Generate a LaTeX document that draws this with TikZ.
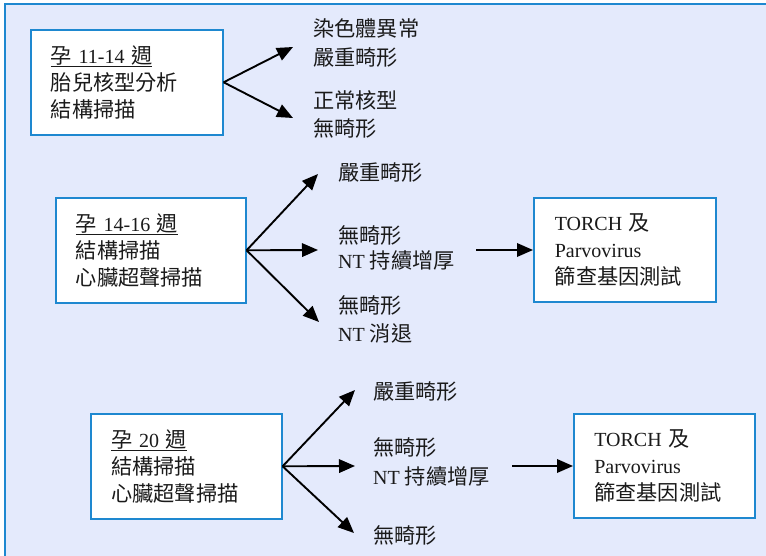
\documentclass[tikz,border=0pt]{standalone}
\usepackage{fontspec}
\setmainfont{Liberation Serif}
\newfontfamily\cjk[Scale=1.06]{Noto Sans CJK TC}
\usetikzlibrary{arrows.meta}
\newcommand\zh[1]{{\cjk #1}}
\definecolor{framebg}{HTML}{E4EAFC}
\definecolor{frameblue}{HTML}{1E88D0}
\definecolor{ink}{HTML}{1A1A1A}
\tikzset{
  txt/.style={font=\fontsize{20}{27}\selectfont, text=ink},
  box/.style={txt, draw=frameblue, line width=1.6pt, fill=white, anchor=north west,
    align=left, minimum height=105pt, inner ysep=0pt},
  lbl/.style={txt, anchor=west, align=left, inner sep=0pt},
  arr/.style={line width=1.9pt, draw=black, -{Triangle[length=16pt,width=13.5pt]}},
}
\begin{document}
\begin{tikzpicture}[x=1pt,y=-1pt]
\useasboundingbox (0,0) rectangle (766,556);
% background frame
\fill[framebg] (5,4) rectangle (772,562);
\draw[frameblue, line width=2pt] (772,4) -- (5,4) -- (5,562);

% boxes
\node[box, text width=152pt, inner xsep=20pt] (b1) at (30,29)
  {\underline{\zh{孕} 11-14 \zh{週}}\\\zh{胎兒核型分析}\\\zh{結構掃描}};
\node[box, text width=150pt, inner xsep=20pt] (b2) at (55,197)
  {\underline{\zh{孕} 14-16 \zh{週}}\\\zh{結構掃描}\\\zh{心臟超聲掃描}};
\node[box, text width=150pt, inner xsep=20.5pt] (b3) at (90,413)
  {\underline{\zh{孕} 20 \zh{週}}\\\zh{結構掃描}\\\zh{心臟超聲掃描}};
\node[box, text width=140pt, inner xsep=21pt, minimum height=104pt] (t1) at (533,197)
  {TORCH \zh{及}\\Parvovirus\\\zh{篩查基因測試}};
\node[box, text width=140pt, inner xsep=20.5pt, minimum height=104pt] (t2) at (573,413)
  {TORCH \zh{及}\\Parvovirus\\\zh{篩查基因測試}};

% labels
\node[lbl, font=\fontsize{20}{29}\selectfont] (l1a) at (313,42.5) {\zh{染色體異常}\\\zh{嚴重畸形}};
\node[lbl, font=\fontsize{20}{28}\selectfont] (l1b) at (313,114) {\zh{正常核型}\\\zh{無畸形}};

\node[lbl] (l2a) at (338,173) {\zh{嚴重畸形}};
\node[lbl, font=\fontsize{20}{25}\selectfont] (l2b) at (338,247.5) {\zh{無畸形}\\NT \zh{持續增厚}};
\node[lbl, font=\fontsize{20}{28}\selectfont] (l2c) at (338,319) {\zh{無畸形}\\NT \zh{消退}};

\node[lbl] (l3a) at (373,392) {\zh{嚴重畸形}};
\node[lbl, font=\fontsize{20}{29}\selectfont] (l3b) at (373,461.5) {\zh{無畸形}\\NT \zh{持續增厚}};
\node[lbl] (l3c) at (373,535) {\zh{無畸形}};

% arrow tips
\coordinate (e1a) at (293,47);
\coordinate (e1b) at (293,118);
\coordinate (e2a) at (318,174);
\coordinate (e2b) at (318,250);
\coordinate (e2c) at (319,322);
\coordinate (s2) at (476,250);
\coordinate (e3a) at (355,390);
\coordinate (e3b) at (355,466);
\coordinate (e3c) at (354,533);
\coordinate (s3) at (512,466);

\draw[arr] (b1.east) -- (e1a);
\draw[arr] (b1.east) -- (e1b);
\draw[arr] (b2.east) -- (e2a);
\draw[arr] (b2.east) -- (e2b);
\draw[arr] (b2.east) -- (e2c);
\draw[arr] (s2) -- (t1.west |- s2);
\draw[arr] (b3.east) -- (e3a);
\draw[arr] (b3.east) -- (e3b);
\draw[arr] (b3.east) -- (e3c);
\draw[arr] (s3) -- (t2.west |- s3);
\end{tikzpicture}
\end{document}
